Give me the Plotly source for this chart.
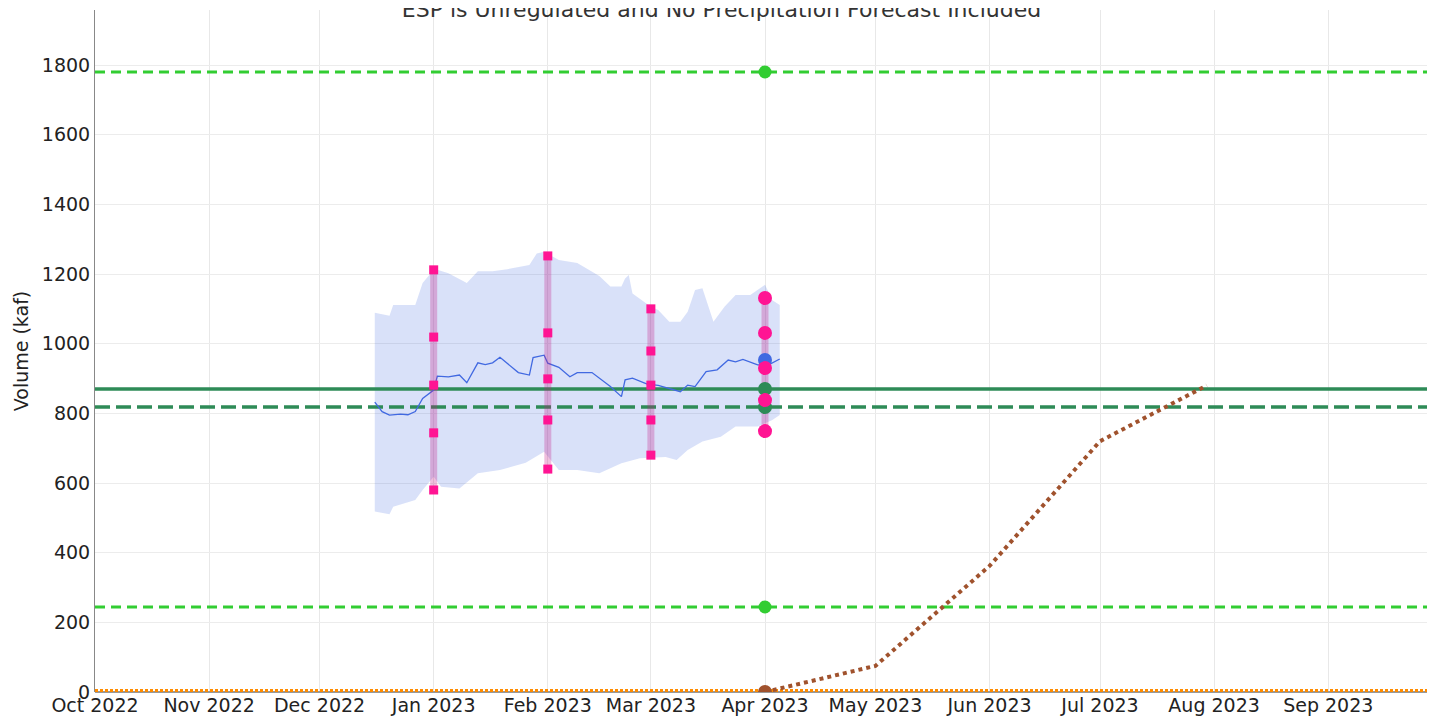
import plotly.graph_objects as go

# ---------------- data ----------------
title_text = "ESP is Unregulated and No Precipitation Forecast Included"
y_label = "Volume (kaf)"

# daily ESP median trace (sampled)
esp_dates = ["2022-12-16", "2022-12-18", "2022-12-20", "2022-12-23", "2022-12-25", "2022-12-27", "2022-12-29",
             "2023-01-01", "2023-01-02", "2023-01-05", "2023-01-08", "2023-01-10", "2023-01-13", "2023-01-15",
             "2023-01-17", "2023-01-19", "2023-01-24", "2023-01-27", "2023-01-28", "2023-01-31",
             "2023-02-01", "2023-02-04", "2023-02-07", "2023-02-09", "2023-02-13", "2023-02-18",
             "2023-02-21", "2023-02-22", "2023-02-24", "2023-02-28", "2023-03-03", "2023-03-09",
             "2023-03-11", "2023-03-13", "2023-03-16", "2023-03-19", "2023-03-22", "2023-03-24",
             "2023-03-26", "2023-03-30", "2023-04-02", "2023-04-05"]
esp_median = [832, 805, 795, 798, 796, 805, 843, 867, 907, 905, 910, 888, 945, 940, 945, 961, 917,
              910, 960, 967, 944, 932, 905, 917, 917, 877, 848, 896, 901, 884, 880, 862, 881, 877,
              920, 925, 953, 948, 955, 939, 939, 956]

band_upper_dates = ["2022-12-16", "2022-12-20", "2022-12-21", "2022-12-27", "2022-12-29", "2023-01-01",
                    "2023-01-02", "2023-01-05", "2023-01-10", "2023-01-13", "2023-01-17", "2023-01-21",
                    "2023-01-27", "2023-01-29", "2023-01-31", "2023-02-04", "2023-02-09", "2023-02-15",
                    "2023-02-18", "2023-02-21", "2023-02-22", "2023-02-23", "2023-02-24", "2023-03-01",
                    "2023-03-03", "2023-03-06", "2023-03-09", "2023-03-11", "2023-03-13", "2023-03-15",
                    "2023-03-18", "2023-03-21", "2023-03-24", "2023-03-28", "2023-04-01", "2023-04-03",
                    "2023-04-05"]
band_upper = [1089, 1080, 1111, 1111, 1174, 1212, 1212, 1202, 1174, 1208, 1208, 1214, 1226, 1259,
              1264, 1240, 1232, 1194, 1164, 1164, 1187, 1197, 1144, 1106, 1097, 1063, 1063, 1092,
              1154, 1159, 1063, 1106, 1140, 1140, 1169, 1125, 1111]

band_lower_dates = ["2022-12-16", "2022-12-20", "2022-12-21", "2022-12-27", "2022-12-29", "2023-01-01",
                    "2023-01-03", "2023-01-08", "2023-01-13", "2023-01-19", "2023-01-26", "2023-01-31",
                    "2023-02-04", "2023-02-09", "2023-02-15", "2023-02-21", "2023-02-26", "2023-03-05",
                    "2023-03-08", "2023-03-11", "2023-03-15", "2023-03-20", "2023-03-24", "2023-03-30",
                    "2023-04-03", "2023-04-05"]
band_lower = [518, 510, 532, 551, 580, 618, 589, 584, 628, 637, 658, 690, 637, 637, 628, 657,
              671, 675, 666, 695, 719, 733, 762, 762, 781, 795]

# monthly forecast exceedance values (squares) and Apr 1 forecast (circles)
fc_jan = [1212, 1019, 881, 744, 580]
fc_feb = [1252, 1031, 899, 781, 640]
fc_mar = [1100, 979, 881, 781, 680]
fc_apr = [1131, 1031, 930, 838, 749]
fc_dates = ["2023-01-01", "2023-02-01", "2023-03-01"]
apr_date = "2023-04-01"

apr_observed = 953          # blue dot
flood_upper = 1780          # light green dashed
flood_lower = 244
avg_solid = 870             # dark green solid
avg_dashed = 818            # dark green dashed

runoff_dates = ["2023-04-01", "2023-05-01", "2023-06-01", "2023-07-01", "2023-07-30"]
runoff_vals = [0, 75, 362, 720, 880]

x_start, x_end = "2022-10-01", "2023-09-30"
y_max = 1958
tick_dates = ["2022-10-01", "2022-11-01", "2022-12-01", "2023-01-01", "2023-02-01", "2023-03-01",
              "2023-04-01", "2023-05-01", "2023-06-01", "2023-07-01", "2023-08-01", "2023-09-01"]
tick_text = ["Oct 2022", "Nov 2022", "Dec 2022", "Jan 2023", "Feb 2023", "Mar 2023",
             "Apr 2023", "May 2023", "Jun 2023", "Jul 2023", "Aug 2023", "Sep 2023"]

# ---------------- figure ----------------
fig = go.Figure()

# shaded band
fig.add_trace(go.Scatter(x=band_upper_dates, y=band_upper, mode="lines",
                         line=dict(width=0, color="rgba(65,105,225,0)"), hoverinfo="skip",
                         showlegend=False))
fig.add_trace(go.Scatter(x=band_lower_dates, y=band_lower, mode="lines",
                         line=dict(width=0, color="rgba(65,105,225,0)"), fill="tonextx",
                         fillcolor="rgba(65,105,225,0.2)", showlegend=False))

# orange zero line
fig.add_trace(go.Scatter(x=[x_start, x_end], y=[0, 0], mode="lines",
                         line=dict(color="darkorange", width=6, dash="3px,2px"), showlegend=False))

# horizontal reference lines
for val, col, dash, w in [(flood_upper, "limegreen", "10px,6px", 3), (flood_lower, "limegreen", "10px,6px", 3),
                          (avg_solid, "seagreen", "solid", 3.5), (avg_dashed, "seagreen", "15px,6px", 3.5)]:
    fig.add_trace(go.Scatter(x=[x_start, x_end], y=[val, val], mode="lines",
                             line=dict(color=col, width=w, dash=dash), showlegend=False))

# median line
fig.add_trace(go.Scatter(x=esp_dates, y=esp_median, mode="lines",
                         line=dict(color="royalblue", width=1.3), showlegend=False))

# pink vertical range bars
for d, vals in zip(fc_dates + [apr_date], [fc_jan, fc_feb, fc_mar, fc_apr]):
    fig.add_trace(go.Scatter(x=[d, d], y=[min(vals), max(vals)], mode="lines",
                             line=dict(color="rgba(199,21,133,0.28)", width=7), showlegend=False))

# runoff brown dotted
fig.add_trace(go.Scatter(x=runoff_dates, y=runoff_vals, mode="lines",
                         line=dict(color="sienna", width=4, dash="dot"), showlegend=False))
fig.add_trace(go.Scatter(x=[runoff_dates[0]], y=[runoff_vals[0]], mode="markers",
                         marker=dict(color="sienna", size=14), showlegend=False))

# Apr 1 markers
fig.add_trace(go.Scatter(x=[apr_date, apr_date], y=[flood_upper, flood_lower], mode="markers",
                         marker=dict(color="limegreen", size=13), showlegend=False))
fig.add_trace(go.Scatter(x=[apr_date], y=[apr_observed], mode="markers",
                         marker=dict(color="royalblue", size=14), showlegend=False))
fig.add_trace(go.Scatter(x=[apr_date, apr_date], y=[avg_solid, avg_dashed], mode="markers",
                         marker=dict(color="seagreen", size=14), showlegend=False))

# forecast markers
for d, vals in zip(fc_dates, [fc_jan, fc_feb, fc_mar]):
    fig.add_trace(go.Scatter(x=[d] * len(vals), y=vals, mode="markers",
                             marker=dict(color="deeppink", size=9, symbol="square"), showlegend=False))
fig.add_trace(go.Scatter(x=[apr_date] * len(fc_apr), y=fc_apr, mode="markers",
                         marker=dict(color="deeppink", size=14), showlegend=False))

fig.update_layout(
    width=1427, height=712,
    margin=dict(l=87, r=0, t=2, b=28),
    paper_bgcolor="white", plot_bgcolor="white",
    font=dict(family="DejaVu Sans", size=19, color="#222"),
    title=dict(text=title_text, x=0.5, xanchor="center", y=0.9985, yref="container",
               yanchor="middle", font=dict(size=22, color="#333")),
    showlegend=False,
)
fig.update_xaxes(range=[x_start, x_end], tickvals=tick_dates, ticktext=tick_text,
                 showgrid=True, gridcolor="#e8e8e8", zeroline=False, showline=False,
                 ticks="", tickfont=dict(size=19))
fig.update_yaxes(range=[0, y_max], dtick=200, title=dict(text=y_label, font=dict(size=19), standoff=8),
                 showgrid=True, gridcolor="#ececec", zeroline=True, zerolinecolor="#999",
                 showline=True, linecolor="#888", linewidth=1, ticks="", tickfont=dict(size=19))

fig.write_html("out.html")
